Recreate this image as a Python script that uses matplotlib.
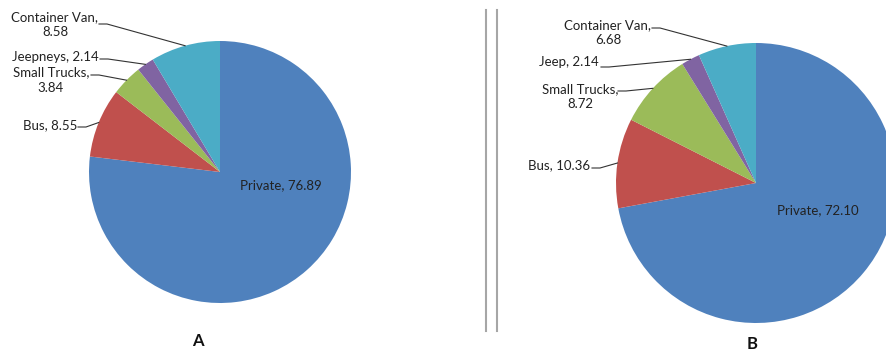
import numpy as np
import matplotlib
matplotlib.use("Agg")
import matplotlib.pyplot as plt

plt.rcParams["font.family"] = ["Lato", "DejaVu Sans"]

# data
categories_a = ["Private", "Bus", "Small Trucks", "Jeepneys", "Container Van"]
values_a = [76.89, 8.55, 3.84, 2.14, 8.58]
categories_b = ["Private", "Bus", "Small Trucks", "Jeep", "Container Van"]
values_b = [72.10, 10.36, 8.72, 2.14, 6.68]
colors = ["#4F81BD", "#C0504D", "#9BBB59", "#8064A2", "#4BACC6"]

W, H = 887, 354
fig = plt.figure(figsize=(W / 100, H / 100), dpi=100)
ax = fig.add_axes([0, 0, 1, 1])
FS = 9.5


def py(y):
    # pixel row (from top) -> data y
    return H - y


def draw_pie(values, names, cx, cy, r, inside, outside, title, title_xy):
    ax.pie(values, colors=colors, startangle=90, counterclock=False,
           center=(cx, py(cy)), radius=r, wedgeprops=dict(linewidth=0))
    total = sum(values)
    cum = np.cumsum([0] + list(values[:-1]))
    for i, (name, v) in enumerate(zip(names, values)):
        lab = f"{name}, {v:.2f}"
        if i == 0:
            ax.text(inside[0], py(inside[1]), lab, ha="center", va="center",
                    fontsize=FS, color="#222222")
            continue
        tx, ty, lx, ly, two_lines = outside[name]
        if two_lines:
            lab = f"{name},\n{v:.2f}"
        ax.text(tx, py(ty), lab, ha="center", va="center", fontsize=FS,
                color="#222222", linespacing=1.3)
        theta = np.radians(90 - 360 * (cum[i] + v / 2) / total)
        ax_, ay_ = cx + r * np.cos(theta), cy - r * np.sin(theta)
        ax.plot([lx, lx + 8, ax_], [py(ly), py(ly), py(ay_)],
                color="#333333", lw=0.8)
    ax.text(title_xy[0], py(title_xy[1]), title, ha="center", va="center",
            fontsize=12, fontweight="bold", color="#111111")


# outside label layout: text center x, y, leader start x, y, two lines?
out_a = {
    "Container Van": (55, 25, 99, 24, True),
    "Jeepneys": (55, 57, 100, 59, False),
    "Small Trucks": (51, 80, 91, 75, True),
    "Bus": (50, 125, 78, 127, False),
}
out_b = {
    "Container Van": (608, 33, 652, 28, True),
    "Jeep": (569, 62, 601, 67, False),
    "Small Trucks": (580, 97, 618, 91, True),
    "Bus": (559, 165, 592, 168, False),
}

draw_pie(values_a, categories_a, 220, 172, 131, (281, 185), out_a, "A", (198, 341))
draw_pie(values_b, categories_b, 756, 183, 140, (818, 210), out_b, "B", (752, 344))

# separator lines
for x in (486, 497):
    ax.plot([x, x], [py(10), py(331)], color="#A6A6A6", lw=1.5)

ax.set_xlim(0, W)
ax.set_ylim(0, H)
ax.set_aspect("equal")
ax.axis("off")

fig.savefig("out.png", dpi=100)
